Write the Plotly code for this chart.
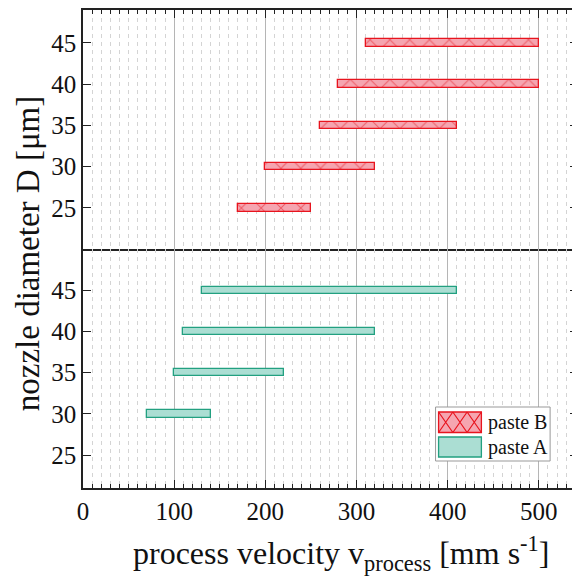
import plotly.graph_objects as go
from plotly.subplots import make_subplots

# ---- data ----
diam_B = [25, 30, 35, 40, 45]
vmin_B = [170, 200, 260, 280, 310]
vmax_B = [250, 320, 410, 500, 500]

diam_A = [30, 35, 40, 45]
vmin_A = [70, 100, 110, 130]
vmax_A = [140, 220, 320, 410]

x_ticks = [0, 100, 200, 300, 400, 500]
y_ticks = [25, 30, 35, 40, 45]

FONT = "Liberation Serif"
RED = "#e8141e"
PINK = "#f5a5b0"
TEAL_FILL = "#abded3"
TEAL_LINE = "#22a080"

W = H = 572
ML, MT, MR, MB = 75, 2, 0, 92
PW = W - ML - MR
PH = H - MT - MB


def px(sx):
    # screen x (page has 8px body margin) -> paper
    return (sx - 8 - ML) / PW


def py(sy):
    return (H - MB - (sy - 8)) / PH


fig = make_subplots(rows=2, cols=1, shared_xaxes=True, vertical_spacing=0)

fig.add_trace(go.Bar(
    y=diam_B, x=[b - a for a, b in zip(vmin_B, vmax_B)], base=vmin_B,
    orientation="h", width=0.9, name="paste B", showlegend=False,
    marker=dict(color=PINK, line=dict(color=RED, width=1.3),
                pattern=dict(shape="x", fgcolor=RED, size=14, solidity=0.14,
                             fillmode="overlay")),
), row=1, col=1)

fig.add_trace(go.Bar(
    y=diam_A, x=[b - a for a, b in zip(vmin_A, vmax_A)], base=vmin_A,
    orientation="h", width=0.9, name="paste A", showlegend=False,
    marker=dict(color=TEAL_FILL, line=dict(color=TEAL_LINE, width=1.3)),
), row=2, col=1)

xcommon = dict(range=[0, 543], tickvals=x_ticks, ticks="inside", ticklen=8,
               tickcolor="#222", tickwidth=1, showline=True, linecolor="#222",
               linewidth=1.5, showgrid=True, gridcolor="#b5b5b5", gridwidth=1,
               zeroline=False,
               minor=dict(dtick=10, tick0=0, ticks="inside", ticklen=4, tickcolor="#222",
                          showgrid=True, gridcolor="#d4d4d4", griddash="4px,4px",
                          gridwidth=1),
               tickfont=dict(family=FONT, size=25, color="#111"))

fig.update_xaxes(**xcommon)
fig.update_xaxes(row=1, col=1, side="top", showticklabels=False, mirror=True)
fig.update_xaxes(row=2, col=1, mirror=False)

ycommon = dict(tickvals=y_ticks, ticks="inside", ticklen=8, tickcolor="#222",
               showline=True, linecolor="#222", linewidth=1.5, mirror="ticks",
               showgrid=False, zeroline=False,
               tickfont=dict(family=FONT, size=25, color="#111"))
fig.update_yaxes(**ycommon)
fig.update_yaxes(row=1, col=1, range=[20, 49])
fig.update_yaxes(row=2, col=1, range=[21, 50])

fig.add_annotation(text="process velocity v<sub>process</sub> [mm s<sup>-1</sup>]",
                   xref="paper", yref="paper", x=px(342), y=py(553),
                   showarrow=False, xanchor="center", yanchor="middle",
                   font=dict(family=FONT, size=32, color="#111"))

fig.add_annotation(text="nozzle diameter D [μm]", xref="paper", yref="paper",
                   x=px(28), y=py(254), textangle=-90, showarrow=False,
                   xanchor="center", yanchor="middle",
                   font=dict(family=FONT, size=33, color="#111"))

# ---- hand-drawn legend (large swatches as in the reference) ----
shapes = []
shapes.append(dict(type="rect", xref="paper", yref="paper",
                   x0=px(437), x1=px(552), y0=py(461), y1=py(407),
                   fillcolor="white", line=dict(color="#999", width=1), layer="above"))
bx0, bx1, by0, by1 = 440, 483, 412, 432.5
shapes.append(dict(type="rect", xref="paper", yref="paper",
                   x0=px(bx0), x1=px(bx1), y0=py(by1), y1=py(by0),
                   fillcolor=PINK, line=dict(color=RED, width=1.3), layer="above"))
p = (bx1 - bx0) / 3
path = ""
for k in range(3):
    a, b = bx0 + k * p, bx0 + (k + 1) * p
    path += f"M {px(a)},{py(by0)} L {px(b)},{py(by1)} M {px(a)},{py(by1)} L {px(b)},{py(by0)} "
shapes.append(dict(type="path", xref="paper", yref="paper", path=path,
                   line=dict(color=RED, width=1.2), layer="above"))
shapes.append(dict(type="rect", xref="paper", yref="paper",
                   x0=px(440), x1=px(483), y0=py(457), y1=py(437),
                   fillcolor=TEAL_FILL, line=dict(color=TEAL_LINE, width=1.3), layer="above"))

fig.add_annotation(text="paste B", xref="paper", yref="paper", x=px(488), y=py(422),
                   xanchor="left", yanchor="middle", showarrow=False,
                   font=dict(family=FONT, size=20, color="#111"))
fig.add_annotation(text="paste A", xref="paper", yref="paper", x=px(488), y=py(447),
                   xanchor="left", yanchor="middle", showarrow=False,
                   font=dict(family=FONT, size=20, color="#111"))

fig.update_layout(
    width=W, height=H,
    margin=dict(l=ML, r=MR, t=MT, b=MB),
    paper_bgcolor="white", plot_bgcolor="white",
    showlegend=False, shapes=shapes,
    bargap=0,
)

fig.write_html("out.html")
